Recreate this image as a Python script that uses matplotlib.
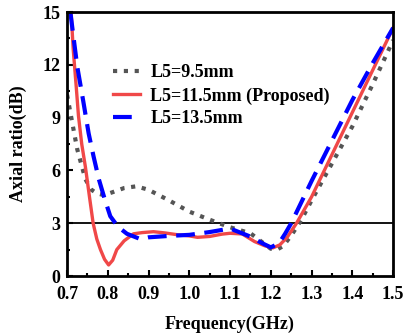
import numpy as np
import matplotlib.pyplot as plt
from matplotlib.ticker import MultipleLocator

# L5 = 9.5 mm
f_95 = [0.700, 0.712, 0.725, 0.745, 0.760, 0.773, 0.790, 0.810, 0.840, 0.870,
        0.900, 0.950, 1.000, 1.050, 1.100, 1.150, 1.180, 1.200, 1.215, 1.230,
        1.250, 1.275, 1.300, 1.350, 1.400, 1.450, 1.500]
ar_95 = [10.3, 8.8, 7.2, 5.5, 4.9, 4.7, 4.6, 4.75, 5.0, 5.1,
         4.9, 4.3, 3.66, 3.2, 2.77, 2.43, 1.9, 1.55, 1.5, 1.7,
         2.3, 3.2, 4.3, 6.4, 8.5, 10.9, 13.4]

# L5 = 11.5 mm (proposed)
f_115 = [0.710, 0.715, 0.722, 0.728, 0.736, 0.745, 0.755, 0.764, 0.773, 0.782,
         0.792, 0.802, 0.812, 0.822, 0.840, 0.863, 0.885, 0.912, 0.940, 0.970,
         1.000, 1.020, 1.050, 1.080, 1.100, 1.130, 1.160, 1.185, 1.205, 1.222,
         1.240, 1.263, 1.300, 1.350, 1.400, 1.450, 1.500]
ar_115 = [15.0, 12.9, 10.9, 9.1, 7.5, 6.2, 4.5, 3.0, 2.1, 1.5,
          0.95, 0.63, 0.9, 1.5, 2.0, 2.4, 2.47, 2.52, 2.45, 2.35,
          2.28, 2.2, 2.25, 2.38, 2.43, 2.39, 1.96, 1.72, 1.6, 1.77,
          2.2, 3.0, 4.5, 6.9, 9.3, 11.7, 14.1]

# L5 = 13.5 mm
f_135 = [0.708, 0.725, 0.740, 0.753, 0.765, 0.778, 0.792, 0.806, 0.825, 0.847,
         0.880, 0.900, 0.950, 1.000, 1.050, 1.100, 1.150, 1.180, 1.200, 1.220,
         1.235, 1.250, 1.275, 1.300, 1.350, 1.400, 1.450, 1.500]
ar_135 = [15.0, 11.9, 9.9, 8.1, 6.8, 5.5, 4.4, 3.4, 2.8, 2.4,
          2.1, 2.2, 2.28, 2.34, 2.5, 2.7, 2.24, 1.85, 1.63, 1.86,
          2.4, 3.0, 4.2, 5.4, 7.7, 10.0, 12.1, 14.1]

plt.rcParams['font.family'] = ['Liberation Serif', 'DejaVu Serif']
plt.rcParams['font.weight'] = 'bold'

fig = plt.figure(figsize=(4.04, 3.35), dpi=100)
ax = fig.add_axes([0.166, 0.176, 0.807, 0.788])

ax.plot(f_95, ar_95, color='#555555', lw=3.0, ls=(0, (1, 1.6)),
        label='L5=9.5mm')
ax.plot(f_115, ar_115, color='#f04848', lw=2.4, ls='-',
        label='L5=11.5mm (Proposed)')
ax.plot(f_135, ar_135, color='#0000ff', lw=3.0, ls=(0, (4.5, 2.3)),
        label='L5=13.5mm')
ax.axhline(3, color='black', lw=1.3, zorder=1)

ax.set_xlim(0.7, 1.5)
ax.set_ylim(0, 15)
ax.xaxis.set_major_locator(MultipleLocator(0.1))
ax.xaxis.set_minor_locator(MultipleLocator(0.05))
ax.yaxis.set_major_locator(MultipleLocator(3))
ax.yaxis.set_minor_locator(MultipleLocator(1.5))
ax.tick_params(which='both', direction='in', width=1.5, labelsize=13)
ax.tick_params(axis='x', pad=7)
ax.tick_params(axis='y', pad=5)
ax.tick_params(which='major', length=4)
ax.tick_params(which='minor', length=2.5)
for s in ax.spines.values():
    s.set_linewidth(2.0)

ax.set_xlabel('Frequency(GHz)', fontsize=13, fontweight='bold', labelpad=9)
ax.set_ylabel('Axial ratio(dB)', fontsize=13, fontweight='bold', labelpad=11)

ax.legend(loc='upper left', bbox_to_anchor=(0.12, 0.829), frameon=False,
          fontsize=13, handlelength=1.5, handletextpad=0.55,
          labelspacing=0.32, borderaxespad=0)

fig.savefig('out.png', dpi=100)
